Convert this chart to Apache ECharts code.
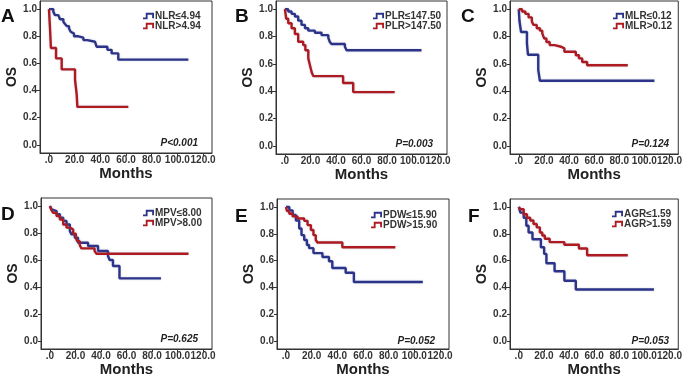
<!DOCTYPE html>
<html>
<head>
<meta charset="utf-8">
<script src="https://cdn.jsdelivr.net/npm/echarts@6/dist/echarts.min.js"></script>
<style>
  html, body { margin: 0; padding: 0; background: #fff; }
  #chart { width: 685px; height: 378px; }
</style>
</head>
<body>
<div id="chart"></div>
<script>
// tick values and labels shared by all six panels
var xTickValues = [0, 20, 40, 60, 80, 100, 120];
var xTickLabels = ['.0', '20.0', '40.0', '60.0', '80.0', '100.0', '120.0'];
var yTickValues = [0, 0.2, 0.4, 0.6, 0.8, 1.0];
var yTickLabels = ['0.0', '0.2', '0.4', '0.6', '0.8', '1.0'];

var panelLetters = ['A', 'B', 'C', 'D', 'E', 'F'];
var pValues = ['P<0.001', 'P=0.003', 'P=0.124', 'P=0.625', 'P=0.052', 'P=0.053'];
var lowNames = ['NLR≤4.94', 'PLR≤147.50', 'MLR≤0.12', 'MPV≤8.00', 'PDW≤15.90', 'AGR≤1.59'];
var highNames = ['NLR>4.94', 'PLR>147.50', 'MLR>0.12', 'MPV>8.00', 'PDW>15.90', 'AGR>1.59'];

// A - NLR
var nlrLowTime = [0, 3.4, 4.7, 7.3, 8.6, 11.2, 12.5, 13.8, 15.6, 16.9, 17.7, 19.5, 22.9, 26.8, 29.9, 35.8, 37.1, 45.5, 48.8, 54, 108.6];
var nlrLowOS = [1, 0.98, 0.956, 0.944, 0.926, 0.907, 0.89, 0.875, 0.858, 0.833, 0.82, 0.80, 0.79, 0.772, 0.76, 0.748, 0.723, 0.70, 0.674, 0.628, 0.628];
var nlrHighTime = [0, 0.8, 1.5, 5.5, 9.9, 20.3, 21.6, 22.1, 61.8];
var nlrHighOS = [1, 0.857, 0.714, 0.637, 0.556, 0.478, 0.37, 0.28, 0.28];

// B - PLR
var plrLowTime = [0, 2.6, 5.2, 7.8, 10.4, 13, 15.7, 18.3, 23.5, 28.7, 34, 35.2, 36.5, 47, 48.3, 107];
var plrLowOS = [1, 0.983, 0.966, 0.946, 0.916, 0.885, 0.86, 0.843, 0.828, 0.81, 0.79, 0.76, 0.745, 0.725, 0.70, 0.70];
var plrHighTime = [0, 1, 2.6, 5.2, 7.8, 10.4, 14.3, 16, 18.3, 19.6, 20.9, 22.2, 45.6, 53.5, 86];
var plrHighOS = [1, 0.93, 0.897, 0.86, 0.818, 0.762, 0.737, 0.70, 0.64, 0.59, 0.54, 0.51, 0.46, 0.393, 0.393];

// C - MLR
var mlrLowTime = [0, 0.5, 1.8, 6.5, 7.3, 15.5, 16.8, 108];
var mlrLowOS = [1, 0.917, 0.833, 0.75, 0.667, 0.556, 0.476, 0.476];
var mlrHighTime = [0, 2.6, 5.2, 7.8, 10.4, 11.7, 14.3, 16.8, 18.7, 20.2, 22, 24.6, 28.5, 33.7, 36.3, 45.4, 47.9, 50.5, 54.4, 86.8];
var mlrHighOS = [1, 0.983, 0.966, 0.94, 0.91, 0.885, 0.86, 0.843, 0.823, 0.786, 0.76, 0.737, 0.725, 0.713, 0.688, 0.663, 0.64, 0.614, 0.59, 0.59];

// D - MPV
var mpvLowTime = [0, 1.3, 2.6, 5.2, 7.8, 10.4, 13, 15.6, 16.9, 19.5, 22, 29.9, 37.7, 45.5, 46.8, 49.4, 54.5, 87];
var mpvLowOS = [1, 0.975, 0.963, 0.94, 0.914, 0.89, 0.864, 0.815, 0.79, 0.765, 0.728, 0.704, 0.667, 0.63, 0.60, 0.556, 0.464, 0.464];
var mpvHighTime = [0, 0.5, 1.3, 2.6, 5.2, 7.8, 10.4, 13, 16, 18.2, 20.3, 21.3, 23.4, 24.7, 35, 36.4, 108.6];
var mpvHighOS = [1, 0.988, 0.968, 0.95, 0.926, 0.90, 0.864, 0.84, 0.827, 0.795, 0.765, 0.74, 0.71, 0.686, 0.667, 0.647, 0.647];

// E - PDW
var pdwLowTime = [0, 2.6, 5.2, 7.7, 10.3, 12.1, 14.2, 16.3, 18, 21.4, 28.4, 33.5, 36.1, 46.5, 52.9, 106.6];
var pdwLowOS = [1, 0.975, 0.94, 0.90, 0.84, 0.79, 0.754, 0.717, 0.693, 0.656, 0.627, 0.595, 0.545, 0.509, 0.44, 0.44];
var pdwHighTime = [0, 0.8, 2.6, 5.2, 9, 14.2, 16.8, 19.4, 21.4, 23.2, 24.5, 43.9, 85.2];
var pdwHighOS = [1, 0.97, 0.95, 0.93, 0.914, 0.897, 0.865, 0.828, 0.79, 0.754, 0.735, 0.70, 0.70];

// F - AGR
var agrLowTime = [0, 1.3, 3.9, 6, 7.8, 10.9, 17.6, 20.2, 22, 28.5, 36.3, 45.4, 107.6];
var agrLowOS = [1, 0.958, 0.92, 0.86, 0.81, 0.76, 0.70, 0.65, 0.58, 0.52, 0.45, 0.384, 0.384];
var agrHighTime = [0, 1.3, 3.9, 6.5, 9.1, 11.7, 14.3, 16.8, 18.7, 20.7, 24.6, 36.3, 47.9, 54.4, 86.8];
var agrHighOS = [1, 0.983, 0.946, 0.92, 0.90, 0.873, 0.848, 0.81, 0.787, 0.763, 0.738, 0.718, 0.69, 0.64, 0.64];

var lowCurves = [[nlrLowTime, nlrLowOS], [plrLowTime, plrLowOS], [mlrLowTime, mlrLowOS], [mpvLowTime, mpvLowOS], [pdwLowTime, pdwLowOS], [agrLowTime, agrLowOS]];
var highCurves = [[nlrHighTime, nlrHighOS], [plrHighTime, plrHighOS], [mlrHighTime, mlrHighOS], [mpvHighTime, mpvHighOS], [pdwHighTime, pdwHighOS], [agrHighTime, agrHighOS]];

function zip(t, s) {
    return t.map(function (v, i) { return [v, s[i]]; });
}

var font = '"Liberation Sans", Arial, sans-serif';
var blue = '#2b3488';
var red = '#ad1a20';
var stepIcon = 'path://M0,5 L3,5 L3,0 L12,0 L12,6 L10,6 L10,2 L5,2 L5,7 L0,7 Z';

// plot boxes in px
var boxes = [
    {left: 40, top: 1, width: 172, height: 152},
    {left: 276, top: 1, width: 171, height: 153},
    {left: 510, top: 1, width: 173, height: 153},
    {left: 41, top: 198, width: 171, height: 151},
    {left: 277, top: 199, width: 172, height: 152},
    {left: 510, top: 199, width: 173, height: 152}
];
var legendPos = [[143, 11], [373, 11], [613, 11], [143, 208], [371, 210], [612, 209]];
var letterPos = [[1, 7], [235, 7], [461, 7], [1, 205], [235, 207], [468, 207]];

var grids = [], xAxes = [], yAxes = [], series = [], legends = [], graphics = [];

boxes.forEach(function (b, i) {
    grids.push({
        left: b.left, top: b.top, width: b.width, height: b.height,
        show: true, borderColor: '#333', borderWidth: 1, backgroundColor: '#fff'
    });
    xAxes.push({
        gridIndex: i, type: 'value', min: -7, max: 127,
        name: 'Months', nameLocation: 'middle', nameGap: 13,
        nameTextStyle: {fontFamily: font, fontWeight: 'bold', fontSize: 15, color: '#222'},
        axisLine: {show: true, onZero: false, lineStyle: {color: '#333'}},
        axisTick: {show: true, customValues: xTickValues, length: 3, lineStyle: {color: '#333'}},
        axisLabel: {
            customValues: xTickValues, margin: 2,
            fontFamily: font, fontWeight: 'bold', fontSize: 10, color: '#333',
            formatter: function (v) { return xTickLabels[xTickValues.indexOf(v)]; }
        },
        splitLine: {show: false}
    });
    yAxes.push({
        gridIndex: i, type: 'value', min: -0.06, max: 1.06,
        name: 'OS', nameLocation: 'middle', nameGap: 21, nameRotate: 90,
        nameTextStyle: {fontFamily: font, fontWeight: 'bold', fontSize: 14, color: '#222'},
        axisLine: {show: true, onZero: false, lineStyle: {color: '#333'}},
        axisTick: {show: true, customValues: yTickValues, length: 3, lineStyle: {color: '#333'}},
        axisLabel: {
            customValues: yTickValues, margin: 3,
            fontFamily: font, fontWeight: 'bold', fontSize: 10, color: '#333',
            formatter: function (v) {
                var k = yTickValues.findIndex(function (t) { return Math.abs(t - v) < 1e-6; });
                return yTickLabels[k];
            }
        },
        splitLine: {show: false}
    });
    [[lowNames[i], lowCurves[i], blue], [highNames[i], highCurves[i], red]].forEach(function (s) {
        series.push({
            name: s[0], type: 'line', step: 'end',
            xAxisIndex: i, yAxisIndex: i,
            data: zip(s[1][0], s[1][1]),
            symbol: 'none', color: s[2],
            lineStyle: {width: 2.4, color: s[2], shadowColor: 'rgba(120,120,170,0.35)', shadowBlur: 2},
            animation: false
        });
    });
    legends.push({
        data: [lowNames[i], highNames[i]],
        left: legendPos[i][0], top: legendPos[i][1],
        orient: 'vertical', icon: stepIcon,
        itemWidth: 11, itemHeight: 7, itemGap: 0, padding: 0,
        textStyle: {fontFamily: font, fontWeight: 'bold', fontSize: 10, color: '#333', lineHeight: 9, padding: [0, 0, 0, -4]}
    });
    graphics.push({
        type: 'text', left: letterPos[i][0], top: letterPos[i][1],
        style: {text: panelLetters[i], font: 'bold 19px ' + font, fill: '#111'}
    });
    graphics.push({
        type: 'text', right: 685 - (b.left + b.width - 14), top: b.top + b.height - 15,
        style: {text: pValues[i], font: 'italic bold 10px ' + font, fill: '#222'}
    });
});

var chart = echarts.init(document.getElementById('chart'));
chart.setOption({
    animation: false,
    grid: grids,
    xAxis: xAxes,
    yAxis: yAxes,
    legend: legends,
    series: series,
    graphic: graphics
});
</script>
</body>
</html>
